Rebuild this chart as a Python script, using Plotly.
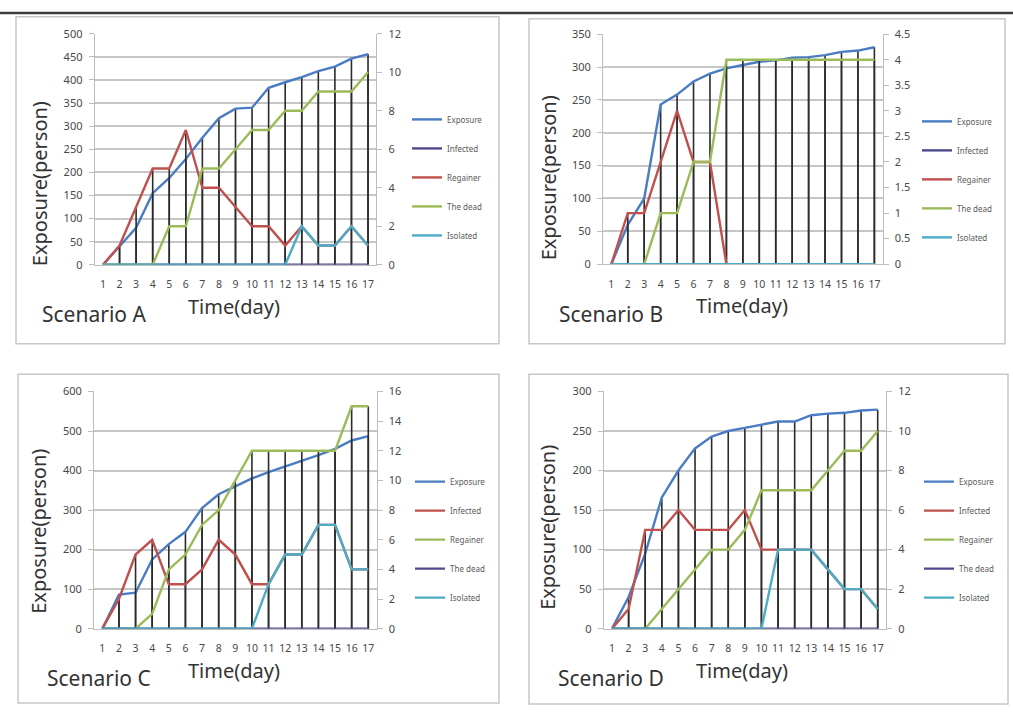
import plotly.graph_objects as go
import numpy as np

days = list(range(1, 18))
day_labels = [str(d) for d in days]

# ---- Scenario A (primary: Exposure, secondary: the rest) ----
exposure_A = [0, 40, 80, 155, 188, 229, 275, 317, 338, 340, 383, 395, 406, 419, 429, 446, 456]
infected_A = [0] * 17
regainer_A = [0, 1, 3, 5, 5, 7, 4, 4, 3, 2, 2, 1, 2, 1, 1, 2, 1]
dead_A = [0, 0, 0, 0, 2, 2, 5, 5, 6, 7, 7, 8, 8, 9, 9, 9, 10]
isolated_A = [0, 0, 0, 0, 0, 0, 0, 0, 0, 0, 0, 0, 2, 1, 1, 2, 1]

# ---- Scenario B ----
exposure_B = [0, 60, 100, 243, 258, 278, 290, 298, 303, 308, 310, 314, 315, 318, 323, 325, 330]
infected_B = [0] * 17
regainer_B = [0, 1, 1, 2, 3, 2, 2, 0, 0, 0, 0, 0, 0, 0, 0, 0, 0]
dead_B = [0, 0, 0, 1, 1, 2, 2, 4, 4, 4, 4, 4, 4, 4, 4, 4, 4]
isolated_B = [0] * 17

# ---- Scenario C ----
exposure_C = [0, 86, 91, 175, 214, 245, 305, 340, 360, 380, 396, 410, 425, 439, 455, 476, 487]
infected_C = [0, 2, 5, 6, 3, 3, 4, 6, 5, 3, 3, 5, 5, 7, 7, 4, 4]
regainer_C = [0, 0, 0, 1, 4, 5, 7, 8, 10, 12, 12, 12, 12, 12, 12, 15, 15]
dead_C = [0] * 17
isolated_C = [0, 0, 0, 0, 0, 0, 0, 0, 0, 0, 3, 5, 5, 7, 7, 4, 4]

# ---- Scenario D ----
exposure_D = [0, 40, 95, 166, 200, 228, 243, 250, 254, 258, 262, 262, 270, 272, 273, 276, 277]
infected_D = [0, 1, 5, 5, 6, 5, 5, 5, 6, 4, 4, 4, 4, 3, 2, 2, 1]
regainer_D = [0, 0, 0, 1, 2, 3, 4, 4, 5, 7, 7, 7, 7, 8, 9, 9, 10]
dead_D = [0] * 17
isolated_D = [0, 0, 0, 0, 0, 0, 0, 0, 0, 0, 4, 4, 4, 3, 2, 2, 1]

series_names = ["Exposure", "Infected", "Regainer", "The dead", "Isolated"]
scenario_labels = ["Scenario A", "Scenario B", "Scenario C", "Scenario D"]

BLUE = "#4a7cc4"
RED = "#c0504d"
GREEN = "#9bbb59"
PURPLE = "#4f4a8a"
AQUA = "#4bacc6"

W, H = 1013, 714


def px(x):
    return x / W


def py(y):
    return 1 - y / H


panels = [
    dict(data=[exposure_A, infected_A, regainer_A, dead_A, isolated_A],
         colors=[BLUE, PURPLE, RED, GREEN, AQUA],
         plot=(94.7, 376.3, 26.3, 262.3), y1=(500, 50), y2=(12, 2),
         box=(16, 9, 499, 343), ytitle=(39, 180), xtitle=(234, 305),
         scen=(40, 313), leg=(407, 99)),
    dict(data=[exposure_B, infected_B, regainer_B, dead_B, isolated_B],
         colors=[BLUE, PURPLE, RED, GREEN, AQUA],
         plot=(603.1, 882.6, 26.7, 261.7), y1=(350, 50), y2=(4.5, 0.5),
         box=(529, 11, 1005, 343), ytitle=(548, 174), xtitle=(742, 304),
         scen=(557, 313), leg=(917, 101)),
    dict(data=[exposure_C, infected_C, regainer_C, dead_C, isolated_C],
         colors=[BLUE, RED, GREEN, PURPLE, AQUA],
         plot=(94.0, 376.6, 391.7, 634.0), y1=(600, 100), y2=(16, 2),
         box=(18, 374, 499, 710), ytitle=(39, 535), xtitle=(234, 677),
         scen=(45, 684), leg=(410, 469)),
    dict(data=[exposure_D, infected_D, regainer_D, dead_D, isolated_D],
         colors=[BLUE, RED, GREEN, PURPLE, AQUA],
         plot=(603.7, 886.0, 391.7, 634.0), y1=(300, 50), y2=(12, 2),
         box=(529, 374, 1008, 711), ytitle=(548, 531), xtitle=(742, 677),
         scen=(556, 684), leg=(919, 469)),
]

FONT = "Noto Sans, sans-serif"
TICKFONT = dict(family="Noto Sans, sans-serif", size=11, color="#484848")
XTICKFONT = dict(family="Noto Sans, sans-serif", size=10.5, color="#484848")

fig = go.Figure()
shapes = []
annotations = []
layout = {}


def drop_lines(values):
    xs, ys = [], []
    for d, v in zip(days, values):
        xs += [d, d, None]
        ys += [0, v, None]
    return xs, ys


for i, p in enumerate(panels):
    n = i + 1
    xa = "x" if n == 1 else f"x{n}"
    ya1 = f"y{2 * n - 1}" if n > 1 else "y"
    ya2 = f"y{2 * n}"
    leg = "legend" if n == 1 else f"legend{n}"

    primary = p["data"][0]
    secondary = p["data"][1:]
    sec_max = np.max(np.array(secondary), axis=0).tolist()

    # drop lines (primary group and secondary group)
    dx, dy = drop_lines(primary)
    fig.add_trace(go.Scatter(x=dx, y=dy, mode="lines", xaxis=xa, yaxis=ya1,
                             line=dict(color="#2b2b2b", width=1.6),
                             showlegend=False, hoverinfo="skip"))
    dx2, dy2 = drop_lines(sec_max)
    fig.add_trace(go.Scatter(x=dx2, y=dy2, mode="lines", xaxis=xa, yaxis=ya2,
                             line=dict(color="#2b2b2b", width=1.6),
                             showlegend=False, hoverinfo="skip"))

    for k, (name, vals, col) in enumerate(zip(series_names, p["data"], p["colors"])):
        fig.add_trace(go.Scatter(
            x=days, y=vals, mode="lines", name=name,
            xaxis=xa, yaxis=ya1 if k == 0 else ya2,
            line=dict(color=col, width=2.4),
            legend=leg, legendgroup=f"{n}-{k}",
        ))

    x0, x1, ytop, ybot = p["plot"]
    xkey = "xaxis" if n == 1 else f"xaxis{n}"
    y1key = "yaxis" if n == 1 else f"yaxis{2 * n - 1}"
    y2key = f"yaxis{2 * n}"

    layout[xkey] = dict(domain=[px(x0), px(x1)], anchor=ya1, range=[0.5, 17.5],
                        tickmode="array", tickvals=days, ticktext=day_labels,
                        showgrid=False, zeroline=False, showline=True,
                        linecolor="#bdbdbd", linewidth=1, ticks="",
                        tickfont=XTICKFONT, ticklabelstandoff=10, fixedrange=True)
    layout[y1key] = dict(domain=[py(ybot), py(ytop)], anchor=xa,
                         range=[0, p["y1"][0]], dtick=p["y1"][1], tick0=0,
                         showgrid=True, gridcolor="#c6c6c6", gridwidth=1.5,
                         zeroline=False, showline=True, linecolor="#bdbdbd",
                         ticks="outside", ticklen=5, tickcolor="#bdbdbd",
                         tickfont=TICKFONT, ticklabelstandoff=4, fixedrange=True)
    layout[y2key] = dict(domain=[py(ybot), py(ytop)], anchor=xa, overlaying=ya1,
                         side="right", range=[0, p["y2"][0]], dtick=p["y2"][1], tick0=0,
                         showgrid=False, zeroline=False, showline=True,
                         linecolor="#bdbdbd", ticks="outside", ticklen=5,
                         tickcolor="#bdbdbd", tickfont=TICKFONT,
                         ticklabelstandoff=4, fixedrange=True)

    lx, ly = p["leg"]
    layout[leg] = dict(x=px(lx), y=py(ly), xanchor="left", yanchor="top",
                       bgcolor="rgba(0,0,0,0)", font=dict(family="Noto Sans, sans-serif",
                                                          size=8, color="#5a5a5a"),
                       itemwidth=30, tracegroupgap=10, traceorder="grouped")

    bx0, by0, bx1, by1 = p["box"]
    shapes.append(dict(type="rect", xref="paper", yref="paper",
                       x0=px(bx0), x1=px(bx1), y0=py(by1), y1=py(by0),
                       line=dict(color="#c8c8c8", width=1.5), layer="below"))

    tx, ty = p["ytitle"]
    annotations.append(dict(text="Exposure(person)", xref="paper", yref="paper",
                            x=px(tx), y=py(ty), xanchor="center", yanchor="middle",
                            textangle=-90, showarrow=False,
                            font=dict(family=FONT, size=20, color="#333333")))
    tx, ty = p["xtitle"]
    annotations.append(dict(text="Time(day)", xref="paper", yref="paper",
                            x=px(tx), y=py(ty), xanchor="center", yanchor="middle",
                            showarrow=False,
                            font=dict(family=FONT, size=20, color="#333333")))
    sx, sy = p["scen"]
    annotations.append(dict(text=scenario_labels[i], xref="paper", yref="paper",
                            x=px(sx), y=py(sy), xanchor="left", yanchor="middle",
                            showarrow=False,
                            font=dict(family=FONT, size=21, color="#333333")))

# dark rule along the top of the page
shapes.append(dict(type="line", xref="paper", yref="paper", x0=0, x1=1,
                   y0=py(5), y1=py(5), line=dict(color="#3c3c3c", width=2.5)))

fig.update_layout(**layout)
fig.update_layout(width=W, height=H, margin=dict(l=0, r=0, t=0, b=0),
                  paper_bgcolor="white", plot_bgcolor="white",
                  shapes=shapes, annotations=annotations, showlegend=True,
                  hovermode=False)

fig.write_html("out.html", config={"displayModeBar": False},
               post_script="document.body.style.margin='0';"
                           "document.body.style.overflow='hidden';")
